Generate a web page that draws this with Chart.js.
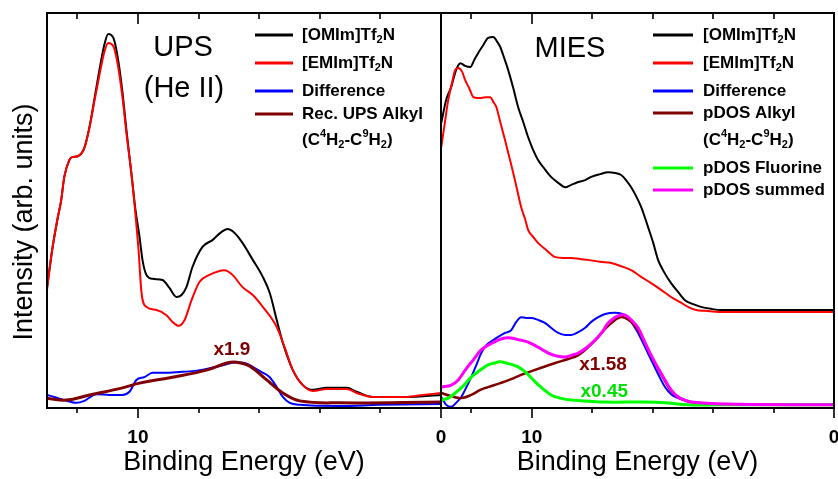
<!DOCTYPE html>
<html>
<head>
<meta charset="utf-8">
<script src="https://cdn.jsdelivr.net/npm/chart.js@4.4.0/dist/chart.umd.min.js"></script>
<style>
  html, body { margin: 0; padding: 0; background: #fff; overflow: hidden; width: 838px; height: 479px; }
  #wrap { position: relative; width: 838px; height: 479px; }
  canvas { position: absolute; top: 0; }
  #ups { left: 0; }
  #mies { left: 439px; }
</style>
</head>
<body>
<div id="wrap">
  <canvas id="ups" width="460" height="479"></canvas>
  <canvas id="mies" width="399" height="479"></canvas>
</div>
<script>
// ---- axis settings (binding energy in eV, reversed) ----
const energyRange = [0, 13];
const labelledTicks = [10, 0];
const minorTicks = [12, 8, 6, 4, 2];

// ---- UPS (He II) spectra: [binding energy (eV), intensity (arb. units)] ----
const upsOMIm = [
  [13.0, 30.4], [12.83, 40.0], [12.66, 47.6], [12.53, 52.7], [12.43, 58.5], [12.26, 62.8],
  [12.17, 63.5], [11.97, 63.8], [11.77, 65.8], [11.60, 71.1], [11.44, 78.0], [11.27, 85.6],
  [11.11, 91.9], [10.98, 94.7], [10.81, 93.7], [10.68, 89.4], [10.51, 80.0], [10.38, 70.4],
  [10.21, 59.0], [10.08, 50.1], [9.95, 43.5], [9.85, 37.5], [9.72, 33.7], [9.52, 32.7],
  [9.19, 32.4], [8.96, 30.4], [8.73, 28.1], [8.56, 28.6], [8.40, 30.6], [8.20, 35.7],
  [7.87, 40.8], [7.54, 42.5], [7.24, 44.6], [7.04, 45.3], [6.81, 44.3], [6.55, 41.8],
  [6.21, 37.5], [5.88, 33.2], [5.65, 29.1], [5.42, 22.3], [5.22, 16.5], [4.89, 9.6],
  [4.56, 5.8], [4.23, 4.6], [3.77, 5.1], [3.11, 5.1], [2.78, 4.1], [2.25, 2.8],
  [1.12, 2.8], [0, 3.3]
];
const upsEMIm = [
  [13.0, 29.9], [12.83, 40.0], [12.66, 47.6], [12.53, 52.7], [12.43, 58.5], [12.26, 62.8],
  [12.17, 63.5], [11.97, 63.8], [11.77, 65.8], [11.60, 70.9], [11.44, 77.5], [11.27, 84.3],
  [11.11, 90.1], [10.98, 92.4], [10.81, 91.6], [10.68, 87.6], [10.51, 78.7], [10.38, 69.6],
  [10.21, 59.0], [10.08, 48.9], [9.98, 40.0], [9.88, 29.1], [9.72, 25.6], [9.39, 24.8],
  [9.06, 23.5], [8.86, 21.8], [8.66, 20.8], [8.46, 22.3], [8.23, 27.3], [7.97, 31.9],
  [7.64, 33.7], [7.14, 34.9], [6.88, 33.7], [6.55, 30.6], [6.21, 28.6], [5.88, 25.6],
  [5.42, 20.5], [5.16, 15.4], [4.89, 9.6], [4.56, 5.8], [4.23, 4.3], [3.77, 4.8],
  [3.11, 4.8], [2.78, 3.8], [2.25, 2.8], [1.12, 2.8], [0.60, 3.3], [0, 3.8]
];
const upsDifference = [
  [13.0, 3.3], [12.76, 2.8], [12.43, 2.0], [12.03, 1.3], [11.77, 1.8], [11.37, 3.5],
  [10.94, 3.3], [10.51, 3.3], [10.28, 4.1], [10.05, 7.1], [9.79, 7.8], [9.52, 8.9],
  [9.12, 8.9], [8.63, 9.1], [8.13, 9.4], [7.74, 9.9], [7.31, 10.6], [6.74, 11.6],
  [6.48, 11.4], [6.21, 10.4], [5.92, 9.1], [5.65, 7.8], [5.42, 5.3], [5.22, 2.8],
  [4.99, 1.3], [4.66, 0.8], [3.34, 0.5], [2.02, 0.8], [0, 1.0]
];
const upsAlkyl = [
  [13.0, 2.5], [12.36, 2.0], [11.60, 3.3], [10.51, 5.1], [9.95, 6.3], [8.86, 7.8],
  [7.74, 9.6], [7.07, 11.4], [6.74, 11.6], [6.31, 10.6], [5.75, 7.1], [5.22, 3.8],
  [4.66, 1.8], [3.34, 1.3], [0, 1.5]
];

// ---- MIES spectra and pDOS ----
const miesOMIm = [
  [12.99, 72.2], [12.83, 78.0], [12.66, 81.3], [12.50, 85.6], [12.36, 87.3], [12.20, 86.6],
  [12.03, 86.3], [11.90, 88.1], [11.77, 89.9], [11.60, 91.9], [11.44, 93.7], [11.27, 93.9],
  [11.14, 92.7], [11.04, 91.4], [10.91, 88.6], [10.78, 85.6], [10.61, 81.0], [10.45, 76.2],
  [10.28, 72.4], [10.12, 68.6], [9.95, 65.3], [9.79, 62.8], [9.55, 60.3], [9.36, 58.5],
  [9.12, 57.0], [8.89, 55.9], [8.69, 56.5], [8.46, 57.2], [8.23, 57.7], [8.03, 58.5],
  [7.74, 59.2], [7.47, 59.7], [7.24, 59.5], [7.04, 59.0], [6.88, 57.7], [6.71, 55.9],
  [6.55, 53.7], [6.38, 50.9], [6.25, 48.1], [6.15, 45.8], [5.98, 41.8], [5.82, 37.5],
  [5.62, 34.4], [5.39, 31.6], [5.16, 29.4], [4.93, 27.3], [4.66, 26.3], [4.40, 25.6],
  [4.07, 25.1], [3.74, 24.8], [2.78, 24.8], [0, 24.8]
];
const miesEMIm = [
  [12.99, 66.1], [12.86, 72.9], [12.76, 78.0], [12.63, 82.5], [12.53, 85.6], [12.43, 86.1],
  [12.30, 85.1], [12.20, 83.0], [12.07, 81.0], [11.93, 78.7], [11.80, 78.5], [11.67, 78.5],
  [11.50, 78.7], [11.37, 78.7], [11.27, 77.5], [11.17, 76.2], [11.04, 72.4], [10.88, 67.8],
  [10.74, 63.5], [10.61, 59.5], [10.48, 55.2], [10.35, 50.9], [10.21, 47.6], [10.12, 45.1],
  [9.95, 43.3], [9.79, 41.8], [9.52, 40.0], [9.22, 38.2], [8.96, 38.0], [8.69, 38.0],
  [8.40, 37.7], [8.13, 37.5], [7.74, 37.0], [7.37, 36.7], [7.04, 35.9], [6.71, 34.9],
  [6.38, 33.2], [6.05, 31.6], [5.72, 29.9], [5.39, 28.1], [5.09, 26.8], [4.83, 25.6],
  [4.56, 24.8], [4.26, 24.6], [3.77, 24.3], [0, 24.3]
];
const miesDifference = [
  [12.99, 2.8], [12.83, 0.8], [12.66, 0.3], [12.50, 1.3], [12.33, 2.8], [12.17, 5.1],
  [12.00, 7.8], [11.83, 10.9], [11.67, 13.9], [11.50, 15.9], [11.31, 17.0], [11.11, 18.0],
  [10.88, 19.0], [10.68, 19.7], [10.51, 21.8], [10.35, 23.0], [10.18, 22.8], [10.02, 22.8],
  [9.79, 22.3], [9.55, 21.5], [9.36, 20.3], [9.12, 19.0], [8.89, 18.5], [8.69, 18.5],
  [8.46, 19.2], [8.23, 20.3], [8.03, 21.8], [7.80, 23.0], [7.57, 23.8], [7.24, 24.1],
  [6.91, 23.5], [6.71, 21.8], [6.48, 19.0], [6.25, 15.4], [6.05, 12.2], [5.82, 8.6],
  [5.59, 5.3], [5.39, 3.5], [5.16, 2.5], [4.73, 1.5], [3.74, 1.0], [0, 0.8]
];
const pdosAlkyl = [
  [12.99, 3.8], [12.66, 3.0], [12.33, 2.5], [12.00, 3.3], [11.70, 4.6], [11.44, 5.3],
  [11.04, 6.3], [10.68, 7.3], [10.35, 8.4], [9.79, 9.9], [9.22, 11.4], [8.79, 12.4],
  [8.46, 13.4], [8.13, 15.4], [7.80, 18.0], [7.54, 20.3], [7.24, 22.3], [7.07, 23.0],
  [6.91, 22.8], [6.71, 21.8], [6.48, 19.7], [6.25, 16.5], [6.05, 13.2], [5.82, 9.9],
  [5.59, 6.8], [5.39, 4.3], [5.16, 2.8], [4.73, 1.5], [3.74, 1.0], [0, 0.8]
];
const pdosFluorine = [
  [12.99, 2.0], [12.76, 2.5], [12.53, 3.8], [12.26, 5.6], [12.00, 7.8], [11.70, 9.6],
  [11.44, 10.9], [11.21, 11.4], [11.07, 11.7], [10.94, 11.6], [10.71, 11.1], [10.45, 10.4],
  [10.18, 8.9], [9.88, 6.6], [9.62, 4.8], [9.36, 3.3], [9.06, 2.5], [8.69, 2.0], [8.23, 1.8],
  [7.57, 1.5], [6.91, 1.5], [6.25, 1.5], [5.59, 1.3], [4.83, 0.8], [3.77, 0.8], [0, 0.8]
];
const pdosSummed = [
  [12.99, 5.3], [12.66, 5.8], [12.43, 7.1], [12.20, 9.6], [11.93, 12.2], [11.67, 14.7],
  [11.37, 16.2], [11.11, 17.2], [10.88, 17.7], [10.68, 17.7], [10.38, 17.2], [10.12, 16.7],
  [9.79, 15.4], [9.45, 13.9], [9.19, 13.2], [8.89, 12.9], [8.66, 13.4], [8.46, 13.9],
  [8.20, 15.2], [7.90, 17.2], [7.67, 19.2], [7.47, 21.5], [7.24, 23.0], [7.07, 23.5],
  [6.91, 23.5], [6.71, 22.3], [6.48, 20.3], [6.25, 16.5], [6.05, 13.4], [5.82, 10.1],
  [5.59, 7.1], [5.39, 4.6], [5.16, 2.8], [4.93, 2.0], [4.73, 1.5], [3.74, 1.0], [0, 0.8]
];

// ---- scaling factors written next to the curves: [text, energy, intensity] ----
const upsFactors = [["x1.9", 6.9, 14.7]];
const miesFactors = [["x1.58", 7.64, 10.9], ["x0.45", 7.6, 4.05]];

const FAMILY = '"Liberation Sans", Arial, Helvetica, sans-serif';
const BLACK = '#000000', RED = '#ff0000', BLUE = '#0000ff', BROWN = '#800000', GREEN = '#00ff00', MAGENTA = '#ff00ff';

// draws text with "_x" subscripts and "^x" superscripts
function drawRich(ctx, text, x, y, size) {
  let cx = x;
  let run = '';
  const flush = () => {
    if (!run) return;
    ctx.font = `bold ${size}px ${FAMILY}`;
    ctx.fillText(run, cx, y);
    cx += ctx.measureText(run).width;
    run = '';
  };
  for (let i = 0; i < text.length; i++) {
    const c = text[i];
    if ((c === '_' || c === '^') && i + 1 < text.length) {
      flush();
      const s = Math.round(size * 0.62);
      ctx.font = `bold ${s}px ${FAMILY}`;
      const dy = c === '_' ? size * 0.32 : -size * 0.36;
      ctx.fillText(text[i + 1], cx, y + dy);
      cx += ctx.measureText(text[i + 1]).width;
      i++;
    } else {
      run += c;
    }
  }
  flush();
}

const panelDecor = {
  id: 'panelDecor',
  afterDatasetsDraw(chart, args, o) {
    const { ctx, chartArea: a, scales: { x, y } } = chart;
    ctx.save();

    // scaling-factor notes
    ctx.textAlign = 'center';
    ctx.textBaseline = 'middle';
    (o.notes || []).forEach(n => {
      ctx.font = `bold 19px ${FAMILY}`;
      ctx.fillStyle = n.color;
      ctx.fillText(n.text, x.getPixelForValue(n.e), y.getPixelForValue(n.i));
    });

    // frame
    ctx.strokeStyle = '#000';
    ctx.lineWidth = 2;
    ctx.strokeRect(a.left, a.top, a.right - a.left, a.bottom - a.top);

    // ticks: outward at the bottom, inward at the top
    ctx.lineWidth = 1.6;
    const tick = (v, len) => {
      const px = Math.round(x.getPixelForValue(v));
      ctx.beginPath();
      ctx.moveTo(px, a.bottom);
      ctx.lineTo(px, a.bottom + len);
      ctx.moveTo(px, a.top);
      ctx.lineTo(px, a.top + len + 1);
      ctx.stroke();
    };
    minorTicks.forEach(v => tick(v, 5));
    labelledTicks.forEach(v => tick(v, 10));

    // panel heading
    ctx.fillStyle = '#000';
    ctx.font = `29px ${FAMILY}`;
    ctx.textAlign = 'center';
    ctx.textBaseline = 'middle';
    (o.heading || []).forEach(h => ctx.fillText(h.text, h.x, h.y));

    // y title
    if (o.yTitle) {
      ctx.save();
      ctx.translate(o.yTitle.x, o.yTitle.y);
      ctx.rotate(-Math.PI / 2);
      ctx.font = `27px ${FAMILY}`;
      ctx.fillText(o.yTitle.text, 0, 0);
      ctx.restore();
    }

    // legend
    const L = o.legend;
    ctx.textAlign = 'left';
    ctx.textBaseline = 'middle';
    chart.data.datasets.forEach((ds, i) => {
      const yy = L.rows[i];
      ctx.strokeStyle = ds.borderColor;
      ctx.lineWidth = 3;
      ctx.beginPath();
      ctx.moveTo(L.x0, yy);
      ctx.lineTo(L.x1, yy);
      ctx.stroke();
      ctx.fillStyle = '#000';
      const lines = ds.label.split('\n');
      drawRich(ctx, lines[0], L.tx, yy, 17);
      if (lines[1]) drawRich(ctx, lines[1], L.tx, L.extra, 17);
    });
    ctx.restore();
  }
};

// measured spectra keep monotone segments; computed pDOS curves use smooth splines
function series(label, pts, color, width, order, smooth) {
  return {
    label, order,
    data: pts.map(([e, i]) => ({ x: e, y: i })),
    borderColor: color, backgroundColor: color,
    borderWidth: width, pointRadius: 0, fill: false,
    cubicInterpolationMode: smooth ? 'default' : 'monotone',
    tension: smooth ? 0.4 : 0
  };
}

function makePanel(id, datasets, padding, decor) {
  return new Chart(document.getElementById(id), {
    type: 'line',
    data: { datasets },
    options: {
      responsive: false, animation: false, devicePixelRatio: 1,
      layout: { padding },
      plugins: { legend: { display: false }, tooltip: { enabled: false }, panelDecor: decor },
      scales: {
        x: {
          type: 'linear', min: energyRange[0], max: energyRange[1], reverse: true,
          afterBuildTicks(s) { s.ticks = labelledTicks.map(v => ({ value: v })); },
          afterFit(s) { s.height = 71; s.paddingLeft = 0; s.paddingRight = 0; },
          grid: { display: false, drawTicks: false },
          border: { display: false },
          ticks: { color: '#000', font: { family: FAMILY, size: 19, weight: 'bold' }, padding: 18, maxRotation: 0, autoSkip: false },
          title: { display: true, text: 'Binding Energy (eV)', color: '#000', font: { family: FAMILY, size: 27 }, padding: { top: 0, bottom: 0 } }
        },
        y: { display: false, min: 0, max: 100 }
      }
    },
    plugins: [panelDecor]
  });
}

makePanel('ups', [
  series('[OMIm]Tf_2N', upsOMIm, BLACK, 2, 4),
  series('[EMIm]Tf_2N', upsEMIm, RED, 2, 3),
  series('Difference', upsDifference, BLUE, 2, 2),
  series('Rec. UPS Alkyl\n(C^4H_2-C^9H_2)', upsAlkyl, BROWN, 3, 1, true)
], { left: 47, top: 13, right: 19, bottom: 0 }, {
  notes: upsFactors.map(([text, e, i]) => ({ text, e, i, color: BROWN })),
  heading: [{ text: 'UPS', x: 183, y: 48 }, { text: '(He II)', x: 184, y: 89 }],
  yTitle: { text: 'Intensity (arb. units)', x: 25, y: 222 },
  legend: { x0: 255, x1: 293, tx: 302, rows: [35, 63, 91, 114], extra: 140 }
});

makePanel('mies', [
  series('[OMIm]Tf_2N', miesOMIm, BLACK, 2, 6),
  series('[EMIm]Tf_2N', miesEMIm, RED, 2, 5),
  series('Difference', miesDifference, BLUE, 2, 4),
  series('pDOS Alkyl\n(C^4H_2-C^9H_2)', pdosAlkyl, BROWN, 2.5, 3, true),
  series('pDOS Fluorine', pdosFluorine, GREEN, 3, 2, true),
  series('pDOS summed', pdosSummed, MAGENTA, 3, 1, true)
], { left: 2, top: 13, right: 4, bottom: 0 }, {
  notes: [
    { text: miesFactors[0][0], e: miesFactors[0][1], i: miesFactors[0][2], color: BROWN },
    { text: miesFactors[1][0], e: miesFactors[1][1], i: miesFactors[1][2], color: '#00e000' }
  ],
  heading: [{ text: 'MIES', x: 131, y: 49 }],
  legend: { x0: 214, x1: 254, tx: 264, rows: [35, 63, 91, 113, 168, 190], extra: 140 }
});
</script>
</body>
</html>
